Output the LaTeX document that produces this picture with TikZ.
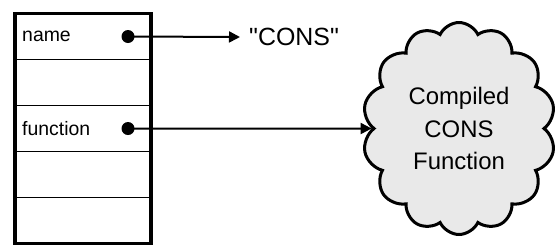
\documentclass[tikz,border=0pt]{standalone}
\usepackage{fontspec}
\setmainfont{Liberation Sans}[Ligatures=TeXOff]
\usetikzlibrary{shapes.symbols, arrows.meta, positioning, fit}
\definecolor{grisNube}{HTML}{E9E9E9}

\begin{document}
\begin{tikzpicture}[x=1bp, y=-1bp,
        fila/.style={draw, line width=1.3bp, minimum width=136bp, minimum height=46bp,
            inner sep=0pt, outer sep=0pt},
        etiq/.style={font=\fontsize{19.5}{22}\selectfont, anchor=west, inner sep=0pt},
        punto/.style={circle, fill, minimum size=13bp, inner sep=0pt},
        nube/.style={cloud, cloud puffs=14, cloud puff arc=130, cloud ignores aspect, draw, line width=3bp,
            fill=grisNube, minimum width=193bp, minimum height=212bp, align=center,
            font=\fontsize{24}{33}\selectfont, inner sep=0pt},
        flecha/.style={-{Triangle[length=11bp, width=11bp]}, line width=2bp}
    ]
        \useasboundingbox (0,0) rectangle (556,251);
        \node[fila] (r1) at (83,36.5) {};
        \node[fila, below=0pt of r1] (r2) {};
        \node[fila, below=0pt of r2] (r3) {};
        \node[fila, below=0pt of r3] (r4) {};
        \node[fila, below=0pt of r4] (r5) {};
        \node[draw, line width=3.8bp, fit=(r1)(r5), inner sep=0pt] (caja) {};
        \node[etiq] at ([xshift=7bp]r1.west) {name};
        \node[etiq] at ([xshift=7bp]r3.west) {function};
        \node[punto] (d1) at ([xshift=-23bp]r1.east) {};
        \node[punto] (d2) at ([xshift=-23bp]r3.east) {};
        \node[font=\fontsize{25}{30}\selectfont, anchor=west, inner sep=0pt] (cons) at (249,37) {"CONS"};
        \coordinate[left=9bp of cons.west] (consPunta);
        \node[nube] (fn) at (459,128.5) {Compiled\\CONS\\Function};
        \draw[flecha] (d1.center) -- (consPunta);
        \draw[flecha] (d2.center) -- (fn.west);
    \end{tikzpicture}
\end{document}
